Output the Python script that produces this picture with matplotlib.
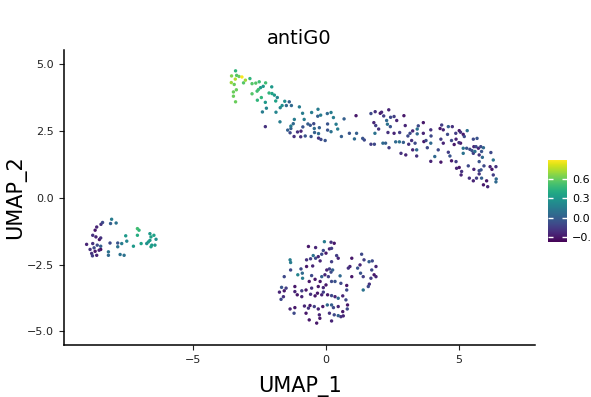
import numpy as np
import matplotlib
matplotlib.use("Agg")
import matplotlib.pyplot as plt

# UMAP_1, UMAP_2, antiG0 expression for each cell, grouped by cluster
band_cells = [
    (-3.40, 4.76, 0.45), (-3.55, 4.57, 0.65), (-3.36, 4.59, 0.55), (-3.27, 4.55, 0.60),
    (-3.16, 4.53, 0.88), (-3.41, 4.45, 0.75), (-3.03, 4.41, 0.70), (-2.86, 4.47, 0.45),
    (-3.56, 4.32, 0.70), (-3.45, 4.25, 0.60), (-3.10, 4.31, 0.55), (-2.78, 4.28, 0.55),
    (-2.64, 4.30, 0.55), (-2.51, 4.35, 0.50), (-2.27, 4.31, 0.50), (-2.36, 4.18, 0.30),
    (-2.46, 4.13, 0.30), (-2.04, 4.16, 0.30), (-3.37, 4.05, 0.60), (-3.48, 3.97, 0.60),
    (-3.48, 3.81, 0.60), (-3.40, 3.60, 0.60), (-2.78, 3.90, 0.55), (-2.59, 4.00, 0.50),
    (-2.54, 4.06, 0.50), (-2.14, 3.93, 0.45), (-2.03, 3.91, 0.35), (-1.94, 3.85, 0.30),
    (-1.83, 3.76, 0.20), (-2.43, 3.76, 0.45), (-2.58, 3.66, 0.45), (-2.28, 3.58, 0.30),
    (-1.89, 3.63, 0.35), (-1.55, 3.62, 0.25), (-1.38, 3.60, 0.00), (-1.65, 3.46, 0.25),
    (-1.72, 3.38, 0.20), (-1.49, 3.46, 0.05), (-1.30, 3.46, 0.05), (-1.00, 3.41, 0.15),
    (-2.24, 3.36, 0.20), (-2.39, 3.22, 0.15), (-1.88, 3.21, 0.20), (-0.88, 3.17, 0.15),
    (-0.54, 3.20, 0.15), (-0.30, 3.32, 0.15), (-0.20, 3.10, 0.15), (-0.31, 3.06, 0.00),
    (0.05, 3.16, 0.05), (-1.19, 2.94, 0.15), (-0.82, 2.94, 0.15), (-1.73, 2.85, 0.15),
    (-1.23, 2.78, 0.05), (-1.32, 2.69, 0.15), (-0.68, 2.77, 0.00), (-0.59, 2.72, -0.05),
    (-0.46, 2.78, -0.10), (-0.87, 2.66, -0.05), (-2.28, 2.67, -0.20), (-1.32, 2.60, 0.00),
    (-1.44, 2.54, 0.00), (-1.35, 2.44, -0.10), (-1.07, 2.47, -0.20), (-0.94, 2.50, -0.25),
    (-0.44, 2.60, 0.05), (-0.43, 2.45, 0.00), (-0.25, 2.63, 0.00), (-0.28, 2.41, 0.05),
    (0.06, 2.77, -0.05), (-1.20, 2.30, -0.20), (-0.95, 2.29, -0.20), (-0.78, 2.32, -0.05),
    (-0.56, 2.30, -0.05), (-0.28, 2.24, -0.20), (-0.19, 2.19, -0.10), (-0.03, 2.15, -0.05),
    (0.06, 2.54, -0.05),
    (0.19, 3.20, 0.15), (0.28, 3.01, 0.15), (0.38, 2.76, 0.15), (0.44, 2.58, 0.15),
    (0.19, 2.48, 0.10), (0.68, 2.96, 0.00), (1.13, 3.08, -0.30), (0.58, 2.30, 0.00),
    (0.88, 2.42, -0.05), (1.15, 2.42, 0.00), (1.07, 2.21, 0.05), (1.38, 2.23, -0.05),
    (1.44, 2.17, -0.10), (1.69, 3.16, -0.10), (1.85, 3.23, -0.20), (2.04, 3.17, -0.30),
    (2.09, 3.21, -0.25), (2.17, 3.07, -0.15), (2.36, 3.30, -0.25), (2.43, 3.02, -0.10),
    (2.56, 3.05, -0.15), (2.66, 2.90, -0.25), (2.93, 3.08, -0.30), (2.28, 2.90, 0.05),
    (1.80, 2.82, -0.25), (1.87, 2.71, -0.15), (2.31, 2.76, 0.10), (2.42, 2.67, -0.05),
    (1.98, 2.58, -0.20), (1.84, 2.42, 0.10), (2.33, 2.45, -0.20), (2.56, 2.42, -0.25),
    (2.77, 2.45, -0.15), (2.98, 2.71, -0.25), (3.08, 2.32, -0.10), (1.69, 2.01, -0.15),
    (1.82, 2.01, -0.10), (2.14, 2.05, 0.05), (2.24, 2.05, 0.00), (2.37, 1.88, -0.15),
    (2.62, 2.10, 0.05), (2.76, 2.10, 0.10), (2.91, 2.08, 0.00), (3.11, 2.01, -0.20),
    (2.82, 1.67, -0.20), (3.00, 1.61, -0.25),
    (3.66, 2.82, -0.30), (3.47, 2.70, -0.10), (3.26, 2.51, -0.25), (3.43, 2.58, 0.10),
    (3.66, 2.42, -0.25), (3.43, 2.40, 0.05), (3.16, 2.42, -0.10), (3.94, 2.55, -0.20),
    (3.95, 2.32, -0.10), (3.22, 2.15, -0.20), (3.35, 2.05, -0.10), (3.68, 2.11, -0.30),
    (3.76, 2.15, -0.10), (3.94, 2.05, 0.05), (3.81, 1.88, -0.10), (3.26, 1.80, -0.25),
    (3.41, 1.80, 0.05), (3.41, 1.57, -0.20), (4.35, 2.73, -0.15), (4.29, 2.60, -0.30),
    (4.41, 2.55, -0.25), (4.60, 2.67, 0.00), (4.75, 2.67, -0.20), (4.57, 2.38, -0.10),
    (4.88, 2.42, -0.15), (5.01, 2.52, -0.30), (5.06, 2.46, -0.20), (5.16, 2.38, -0.30),
    (5.20, 2.30, -0.10), (5.31, 2.52, 0.10), (4.32, 2.20, -0.15), (4.41, 2.05, -0.25),
    (4.72, 2.15, -0.10), (4.89, 2.20, -0.25), (5.00, 2.07, -0.20), (4.82, 2.00, -0.30),
    (5.06, 2.05, -0.30), (4.09, 1.55, 0.05), (4.22, 1.80, -0.10), (3.94, 1.37, -0.25),
    (4.32, 1.34, -0.30), (4.60, 1.71, -0.15), (4.66, 1.57, -0.05), (4.72, 1.39, -0.30),
    (4.89, 1.36, -0.15), (5.16, 1.86, 0.10), (5.29, 1.86, -0.05), (5.41, 1.82, -0.10),
    (5.54, 2.20, -0.10), (5.68, 2.23, -0.05), (5.56, 1.92, -0.25), (5.64, 1.92, -0.10),
    (5.73, 1.86, -0.25), (5.82, 1.92, -0.10), (5.92, 1.88, 0.05), (5.16, 1.67, 0.10),
    (5.49, 1.77, -0.05), (5.54, 1.67, -0.15), (5.60, 1.74, 0.10), (5.76, 1.61, -0.20),
    (5.85, 1.74, -0.05), (6.20, 1.70, -0.10), (5.88, 1.52, 0.05), (6.29, 1.42, 0.10),
    (5.94, 1.20, -0.10), (5.76, 1.36, -0.05), (5.35, 1.20, -0.10), (4.91, 1.11, -0.25),
    (5.01, 1.14, -0.30), (5.10, 0.99, -0.20), (5.08, 0.86, -0.25), (5.56, 1.07, -0.25),
    (5.76, 1.02, -0.10), (5.76, 0.90, -0.20), (5.83, 1.05, -0.05), (6.17, 1.17, -0.25),
    (6.24, 1.07, -0.30), (6.39, 1.17, -0.20), (6.29, 0.86, -0.15), (5.39, 0.74, -0.20),
    (5.54, 0.64, -0.25), (5.66, 0.74, -0.15), (5.85, 0.74, 0.00), (6.04, 0.64, -0.30),
    (6.40, 0.71, 0.05), (6.39, 0.60, 0.05), (5.92, 0.49, -0.30), (6.08, 0.42, -0.25),
]

left_cells = [
    (-8.06, -0.80, 0.15), (-8.40, -0.92, -0.10), (-8.46, -0.99, -0.20), (-8.10, -0.96, 0.00),
    (-7.89, -0.94, 0.10), (-8.62, -1.09, -0.25), (-8.68, -1.21, -0.30), (-8.77, -1.40, -0.20),
    (-8.65, -1.46, -0.25), (-8.47, -1.50, -0.20), (-8.52, -1.56, -0.30), (-9.00, -1.74, -0.25),
    (-8.77, -1.71, -0.20), (-8.60, -1.77, -0.10), (-8.47, -1.81, 0.00), (-8.72, -1.87, -0.10),
    (-8.87, -1.93, -0.20), (-8.68, -2.00, -0.30), (-8.53, -1.96, -0.25), (-8.47, -1.93, -0.35),
    (-8.81, -2.08, -0.20), (-8.62, -2.15, -0.25), (-8.78, -2.17, -0.15), (-8.18, -2.02, 0.10),
    (-8.18, -2.15, 0.05), (-8.12, -1.69, -0.10), (-7.83, -1.69, -0.05), (-7.83, -1.83, 0.10),
    (-7.68, -1.71, 0.15), (-7.74, -2.12, 0.10), (-7.59, -2.15, 0.10), (-7.53, -1.42, 0.30),
    (-7.49, -1.62, 0.20), (-7.24, -1.81, 0.30), (-7.09, -1.15, 0.50), (-7.03, -1.21, 0.45),
    (-7.09, -1.40, 0.40), (-6.95, -1.71, 0.35), (-6.74, -1.71, 0.25), (-6.58, -1.46, 0.35),
    (-6.62, -1.59, 0.30), (-6.68, -1.65, 0.30), (-6.55, -1.77, 0.30), (-6.58, -1.83, 0.35),
    (-6.62, -1.34, 0.30), (-6.47, -1.40, 0.35), (-6.39, -1.55, 0.25), (-6.43, -1.77, 0.30),
]

bottom_cells = [
    (-0.06, -1.64, 0.15), (0.19, -1.66, -0.20), (0.31, -1.70, -0.30), (-0.66, -1.82, -0.30),
    (-0.48, -2.16, 0.10), (-0.39, -1.86, -0.25), (-0.10, -1.97, -0.10), (0.13, -1.91, -0.25),
    (0.21, -1.89, -0.15), (0.00, -2.07, -0.30), (-0.16, -2.11, -0.10), (-0.29, -2.20, -0.25),
    (-1.35, -2.32, 0.15), (-1.33, -2.42, 0.15), (-0.73, -2.32, -0.20), (-0.58, -2.28, -0.15),
    (-0.39, -2.26, -0.10), (-0.22, -2.36, -0.25), (0.21, -2.39, -0.15), (0.40, -2.16, -0.15),
    (0.46, -2.26, -0.25), (-0.50, -2.55, -0.25), (-0.73, -2.57, -0.30), (-0.94, -2.66, -0.10),
    (-0.89, -2.82, 0.05), (-1.06, -2.88, 0.20), (-1.33, -2.70, -0.10), (-0.88, -3.01, 0.15),
    (-0.54, -2.91, -0.10), (-0.63, -3.13, -0.30), (-0.41, -3.05, -0.30), (-0.16, -2.95, 0.00),
    (0.03, -2.70, -0.25), (0.13, -2.66, -0.15), (0.25, -2.70, 0.00), (0.19, -2.78, -0.10),
    (-0.04, -2.88, -0.25), (0.09, -2.95, -0.15), (-0.22, -3.13, -0.30), (0.00, -3.26, -0.30),
    (-0.10, -3.36, -0.25), (0.21, -3.13, -0.10), (0.34, -3.13, -0.05), (0.53, -2.92, 0.05),
    (0.56, -3.20, -0.10), (0.78, -3.28, -0.30), (0.78, -3.45, -0.10), (0.84, -2.63, -0.20),
    (0.90, -2.57, -0.25), (0.97, -2.26, -0.30), (1.19, -2.63, -0.05), (1.28, -2.51, -0.25),
    (1.34, -2.11, -0.10), (1.43, -2.32, -0.15), (1.62, -2.39, 0.00), (1.74, -2.36, -0.10),
    (1.88, -2.57, -0.25), (1.30, -2.82, -0.05), (1.40, -2.95, -0.15), (1.72, -2.70, -0.10),
    (1.81, -2.88, -0.30), (1.88, -2.95, -0.25), (1.69, -3.01, -0.15), (1.59, -3.32, -0.10),
    (1.63, -3.23, -0.20), (1.40, -3.45, 0.10), (0.97, -2.95, -0.30), (-1.57, -2.95, -0.10),
    (-1.67, -3.35, -0.05), (-1.75, -3.53, -0.25), (-1.57, -3.48, -0.30), (-1.50, -3.38, -0.15),
    (-1.60, -3.70, -0.20), (-1.69, -3.80, -0.10), (-1.17, -3.32, -0.30), (-1.17, -3.51, -0.25),
    (-1.08, -3.63, -0.30), (-0.91, -3.48, -0.15), (-0.91, -3.70, -0.25), (-0.75, -3.45, -0.30),
    (-0.58, -3.61, -0.20), (-0.41, -3.67, -0.30), (-0.32, -3.57, -0.30), (-0.16, -3.63, -0.25),
    (-0.10, -3.53, -0.15), (0.06, -3.63, -0.30), (0.21, -3.66, -0.10), (0.34, -3.70, -0.25),
    (0.46, -3.76, 0.05), (0.63, -3.67, -0.25), (0.75, -3.82, -0.10), (0.81, -4.01, -0.30),
    (-0.54, -3.38, -0.20), (-0.29, -3.32, -0.30), (-1.35, -4.16, -0.25), (-1.17, -4.11, -0.30),
    (-1.20, -4.32, -0.10), (-0.81, -4.05, -0.25), (-0.66, -4.13, -0.20), (-0.60, -4.03, -0.30),
    (-0.44, -4.07, -0.15), (-0.29, -4.16, -0.25), (-0.12, -4.07, -0.30), (0.05, -4.01, 0.05),
    (0.21, -4.01, 0.00), (0.28, -4.11, -0.10), (0.46, -4.07, -0.25), (0.63, -4.26, -0.30),
    (0.80, -4.16, -0.10), (-0.75, -4.32, -0.30), (-0.25, -4.38, -0.25), (-0.23, -4.51, -0.30),
    (0.13, -4.32, -0.20), (0.31, -4.38, -0.10), (0.46, -4.41, 0.00), (0.56, -4.45, -0.20),
    (0.65, -4.42, -0.25), (-0.63, -4.57, -0.30), (0.21, -4.61, -0.25), (-0.35, -4.69, -0.30),
]

cbar_ticks = [-0.3, 0.0, 0.3, 0.6]

cells = np.array(band_cells + left_cells + bottom_cells)
# higher expression drawn last so it sits on top
cells = cells[np.argsort(cells[:, 2])]
umap1, umap2, expr = cells[:, 0], cells[:, 1], cells[:, 2]

fig = plt.figure(figsize=(5.91, 3.97), dpi=100)
ax = fig.add_axes([0.1083, 0.131, 0.797, 0.743])

sc = ax.scatter(umap1, umap2, c=expr, cmap="viridis", vmin=-0.38, vmax=0.89,
                s=6, linewidths=0)

ax.set_xlim(-9.85, 7.86)
ax.set_ylim(-5.51, 5.54)
ax.set_xticks([-5, 0, 5])
ax.set_yticks([-5, -2.5, 0, 2.5, 5])
for side in ["top", "right"]:
    ax.spines[side].set_visible(False)
for side in ["left", "bottom"]:
    ax.spines[side].set_linewidth(1.1)
ax.tick_params(labelsize=8, length=3.5, width=0.8, colors="#222222")

ax.set_title("antiG0", fontsize=14, pad=4)
ax.set_xlabel("UMAP_1", fontsize=15, labelpad=8)
ax.set_ylabel("UMAP_2", fontsize=15, labelpad=1)

cax = fig.add_axes([0.927, 0.390, 0.032, 0.207])
cbar = fig.colorbar(sc, cax=cax, ticks=cbar_ticks)
cbar.outline.set_visible(False)
cbar.ax.tick_params(direction="in", length=3.5, width=1, color="white",
                    left=True, right=True, labelsize=8, pad=4)

fig.savefig("out.png", dpi=100)
